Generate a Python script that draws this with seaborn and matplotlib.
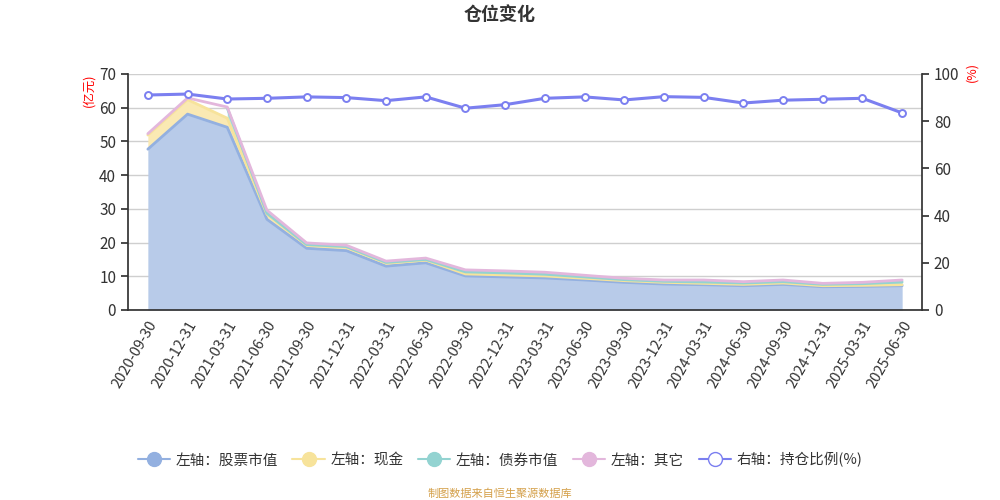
import numpy as np
import pandas as pd
import matplotlib
matplotlib.use("Agg")
import matplotlib.pyplot as plt
from matplotlib.lines import Line2D
import seaborn as sns

dates = ["2020-09-30", "2020-12-31", "2021-03-31", "2021-06-30", "2021-09-30", "2021-12-31",
         "2022-03-31", "2022-06-30", "2022-09-30", "2022-12-31", "2023-03-31", "2023-06-30",
         "2023-09-30", "2023-12-31", "2024-03-31", "2024-06-30", "2024-09-30", "2024-12-31",
         "2025-03-31", "2025-06-30"]
stock = [47.7, 58.1, 54.2, 26.9, 18.3, 17.6, 13.0, 14.0, 10.1, 9.8, 9.5, 8.9, 8.2, 7.7, 7.5, 7.2, 7.6, 6.9, 7.0, 7.2]
cash = [4.2, 4.3, 2.7, 1.5, 0.9, 1.0, 0.9, 0.8, 0.6, 0.6, 0.6, 0.5, 0.5, 0.5, 0.4, 0.4, 0.4, 0.3, 0.3, 0.3]
bond = [np.nan, np.nan, 3.0, 0.3, 0.2, 0.2, 0.2, 0.2, 0.6, 0.6, 0.5, 0.4, 0.3, 0.3, 0.4, 0.4, 0.4, 0.4, 0.5, 0.8]
other = [0.4, 0.5, 0.3, 0.9, 0.5, 0.4, 0.4, 0.4, 0.6, 0.6, 0.6, 0.5, 0.4, 0.4, 0.6, 0.4, 0.5, 0.3, 0.4, 0.6]
ratio = [91.1, 91.5, 89.4, 89.7, 90.3, 90.0, 88.7, 90.3, 85.5, 87.0, 89.7, 90.3, 89.0, 90.4, 90.1, 87.7, 88.9, 89.3, 89.7, 83.5]

legend_labels = ["左轴：股票市值", "左轴：现金", "左轴：债券市值", "左轴：其它", "右轴：持仓比例(%)"]

sns.set_theme(style="white")
plt.rcParams['font.family'] = ['Noto Sans CJK SC', 'DejaVu Sans']
plt.rcParams['axes.unicode_minus'] = False

c_stock_line, c_stock_fill = "#93b0e0", "#b8cbe9"
c_cash_line, c_cash_fill = "#f7e39b", "#fae9b3"
c_bond_line, c_bond_fill = "#93d3d1", "#b5e2e0"
c_other_line, c_other_fill = "#e3b7dc", "#eccbe7"
c_ratio = "#7b7ff0"

x = np.arange(len(dates))
s = np.array(stock)
c = np.array(cash)
b = np.array(bond)
o = np.array(other)
top_cash = s + c
top_bond = top_cash + b
top_other_line = top_cash + np.nan_to_num(b) + o
top_other_fill = top_bond + o

fig = plt.figure(figsize=(10, 5), dpi=100)
ax = fig.add_axes([0.128, 0.38, 0.794, 0.472])
ax2 = ax.twinx()

ax.fill_between(x, 0, s, color=c_stock_fill, lw=0, zorder=2)
ax.fill_between(x, s, top_cash, color=c_cash_fill, lw=0, zorder=2)
ax.fill_between(x, top_cash, top_bond, color=c_bond_fill, lw=0, zorder=2)
ax.fill_between(x, top_bond, top_other_fill, color=c_other_fill, lw=0, zorder=2)

df = pd.DataFrame({"x": x, "stock": s, "cash": top_cash, "bond": top_bond,
                   "other": top_other_line, "ratio": ratio})
sns.lineplot(data=df, x="x", y="stock", ax=ax, color=c_stock_line, lw=2, zorder=3)
sns.lineplot(data=df, x="x", y="cash", ax=ax, color=c_cash_line, lw=2, zorder=3)
sns.lineplot(data=df.dropna(), x="x", y="bond", ax=ax, color=c_bond_line, lw=2, zorder=3)
sns.lineplot(data=df, x="x", y="other", ax=ax, color=c_other_line, lw=2, zorder=3)

sns.lineplot(data=df, x="x", y="ratio", ax=ax2, color=c_ratio, lw=2.2, marker="o",
             markersize=5, markerfacecolor="white", markeredgecolor=c_ratio,
             markeredgewidth=1.4, zorder=5)

ax.set_xlim(-0.5, len(dates) - 0.5)
ax.set_ylim(0, 70)
ax2.set_ylim(0, 100)
ax.set_yticks(range(0, 71, 10))
ax2.set_yticks(range(0, 101, 20))
ax.yaxis.grid(True, color="#cfcfcf", lw=1, zorder=0)
ax.set_axisbelow(True)

ax.set_xticks(x)
ax.set_xticklabels(dates, rotation=60, ha="right", rotation_mode="anchor", fontsize=10.5, color="#333333")
ax.set_xticks(np.arange(-0.5, len(dates), 1), minor=True)
ax.tick_params(axis="x", which="major", length=0, pad=6)
ax.tick_params(axis="x", which="minor", length=5, color="#333333", width=1)
ax.tick_params(axis="y", length=5, color="#333333", labelsize=11, labelcolor="#333333", left=True)
ax2.tick_params(axis="y", length=5, color="#333333", labelsize=11, labelcolor="#333333", right=True)
ax.set_xlabel("")
ax.set_ylabel("")
ax2.set_ylabel("")

for a in (ax, ax2):
    a.spines["top"].set_visible(False)
    a.spines["left"].set_color("#333333")
    a.spines["right"].set_color("#333333")
    a.spines["bottom"].set_color("#333333")
ax.spines["right"].set_visible(False)
ax2.spines["left"].set_visible(False)
ax2.spines["bottom"].set_visible(False)

fig.text(0.5, 0.97, "仓位变化", ha="center", va="center", fontsize=13, fontweight="bold", color="#333333")
fig.text(0.089, 0.82, "(亿元)", ha="center", va="center", rotation=90, fontsize=9, color="red")
fig.text(0.972, 0.855, "(%)", ha="center", va="center", rotation=90, fontsize=9, color="red")

handles = [
    Line2D([0], [0], color=c_stock_line, lw=1.5, marker="o", markersize=10, markerfacecolor=c_stock_line, markeredgecolor=c_stock_line),
    Line2D([0], [0], color=c_cash_line, lw=1.5, marker="o", markersize=10, markerfacecolor=c_cash_line, markeredgecolor=c_cash_line),
    Line2D([0], [0], color=c_bond_line, lw=1.5, marker="o", markersize=10, markerfacecolor=c_bond_line, markeredgecolor=c_bond_line),
    Line2D([0], [0], color=c_other_line, lw=1.5, marker="o", markersize=10, markerfacecolor=c_other_line, markeredgecolor=c_other_line),
    Line2D([0], [0], color=c_ratio, lw=1.5, marker="o", markersize=10, markerfacecolor="white", markeredgecolor=c_ratio),
]
fig.legend(handles, legend_labels, loc="center", bbox_to_anchor=(0.5, 0.08), ncol=5, frameon=False,
           fontsize=10.5, handlelength=2.2, handletextpad=0.4, columnspacing=1.0, labelcolor="#333333")

fig.text(0.5, 0.013, "制图数据来自恒生聚源数据库", ha="center", va="center", fontsize=8, color="#d4a04a")

fig.savefig("out.png", dpi=100)
